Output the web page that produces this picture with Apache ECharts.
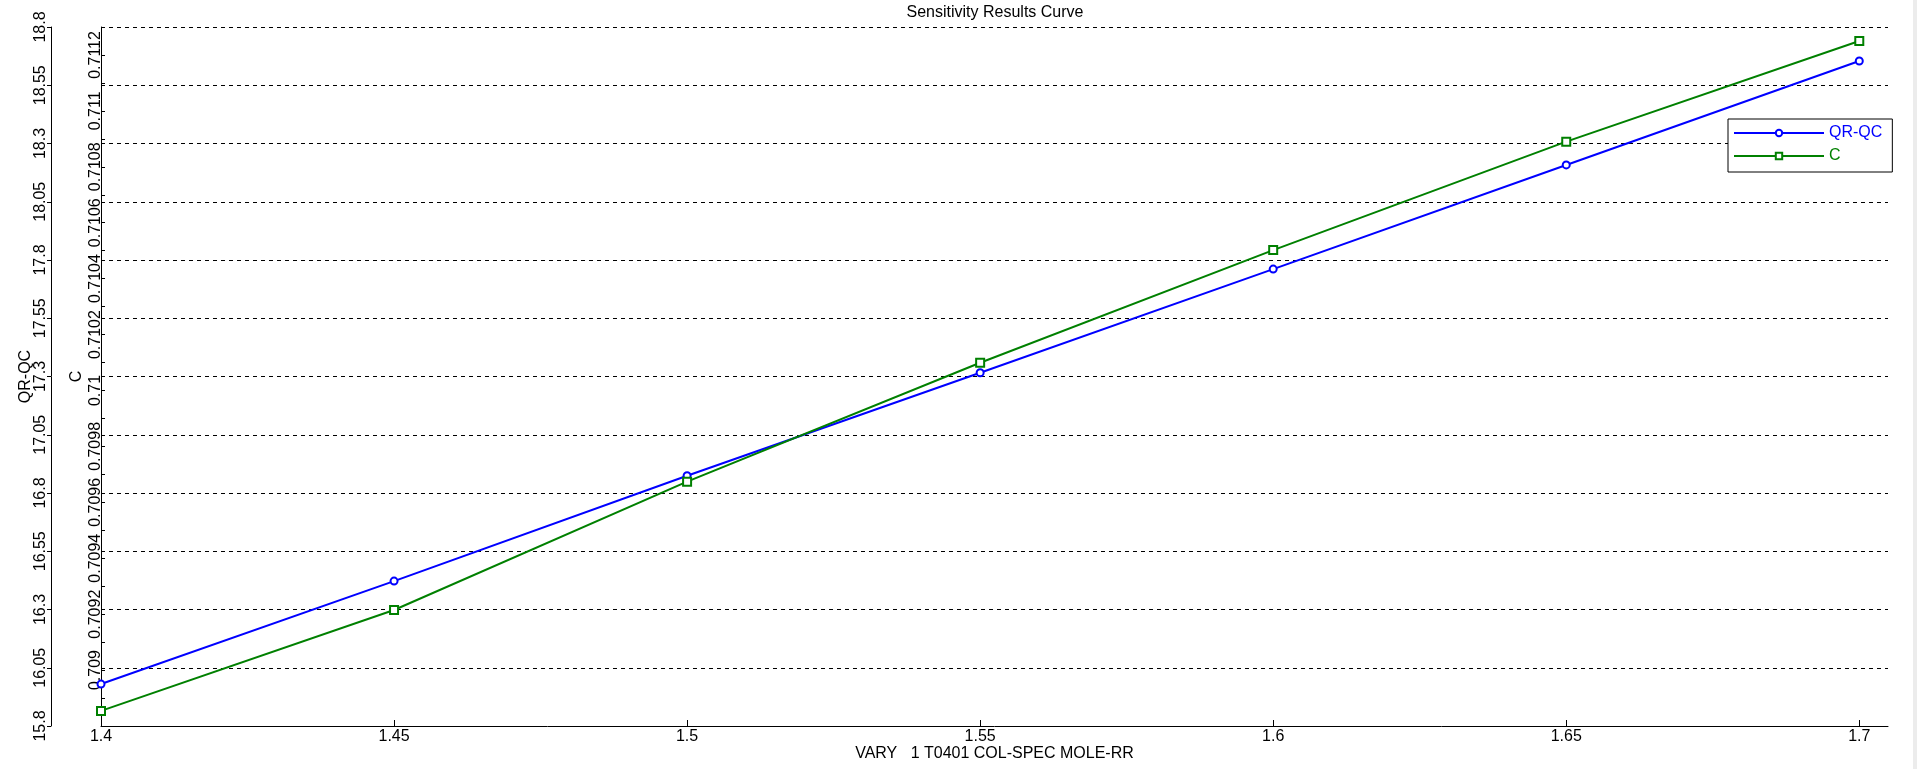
<!DOCTYPE html>
<html>
<head>
<meta charset="utf-8">
<script src="https://cdn.jsdelivr.net/npm/echarts@6/dist/echarts.min.js"></script>
<style>
  html, body { margin: 0; padding: 0; background: #fff; }
  #main { width: 1917px; height: 769px; }
</style>
</head>
<body>
<div id="main"></div>
<script>
// values
var xVals = [1.4, 1.45, 1.5, 1.55, 1.6, 1.65, 1.7];
var qrqcVals = [15.980, 16.422, 16.874, 17.316, 17.761, 18.208, 18.654];
var cVals = [0.708854, 0.709215, 0.709674, 0.710099, 0.710502, 0.710890, 0.711250];
var xTicks = [1.4, 1.45, 1.5, 1.55, 1.6, 1.65, 1.7];

var FONT = "'Liberation Sans', Arial, sans-serif";

function pairs(xs, ys) {
  var out = [];
  for (var i = 0; i < xs.length; i++) {
    out.push([xs[i], ys[i]]);
  }
  return out;
}

var myChart = echarts.init(document.getElementById('main'));
myChart.setOption({
  animation: false,
  backgroundColor: '#fff',
  textStyle: { fontFamily: FONT, fontSize: 16, color: '#000' },
  title: {
    text: 'Sensitivity Results Curve',
    left: 995,
    top: 5,
    textAlign: 'center',
    padding: 0,
    textStyle: { fontFamily: FONT, fontSize: 16, fontWeight: 'normal', color: '#000' }
  },
  grid: { left: 101, right: 29, top: 27, bottom: 43 },
  legend: {
    orient: 'vertical',
    left: 1728,
    top: 119,
    padding: [6, 10, 8, 5],
    itemWidth: 90,
    itemHeight: 8,
    itemGap: 7,
    borderColor: '#000',
    borderWidth: 1,
    backgroundColor: '#fff',
    borderRadius: 0,
    textStyle: { fontFamily: FONT, fontSize: 16, lineHeight: 16 },
    data: [
      { name: 'QR-QC', textStyle: { color: '#0000ff' } },
      { name: 'C', textStyle: { color: '#008000' } }
    ]
  },
  xAxis: {
    type: 'value',
    min: 1.4,
    max: 1.7049,
    name: 'VARY   1 T0401 COL-SPEC MOLE-RR',
    nameLocation: 'middle',
    nameGap: 20,
    nameMoveOverlap: false,
    nameTextStyle: { fontFamily: FONT, fontSize: 16, color: '#000' },
    axisLine: { onZero: false, lineStyle: { color: '#000', width: 1 } },
    axisTick: { inside: true, length: 6, customValues: xTicks, lineStyle: { color: '#000' } },
    axisLabel: {
      customValues: xTicks,
      margin: 3,
      color: '#000',
      fontFamily: FONT,
      fontSize: 16,
      formatter: function (v) { return String(parseFloat(v.toFixed(2))); }
    },
    splitLine: { show: false }
  },
  yAxis: [
    {
      type: 'value',
      position: 'left',
      offset: 50,
      min: 15.8,
      max: 18.8,
      interval: 0.25,
      name: 'QR-QC',
      nameLocation: 'middle',
      nameRotate: 90,
      nameGap: 17,
      nameMoveOverlap: false,
      nameTextStyle: { fontFamily: FONT, fontSize: 16, color: '#000' },
      axisLine: { show: true, onZero: false, lineStyle: { color: '#000', width: 1 } },
      axisTick: { show: true, inside: false, length: 4, lineStyle: { color: '#000' } },
      axisLabel: {
        rotate: 90,
        margin: 2,
        color: '#000',
        fontFamily: FONT,
        fontSize: 16,
        formatter: function (v) { return String(parseFloat(v.toFixed(2))); }
      },
      splitLine: { show: true, lineStyle: { color: '#000', width: 1, type: [4, 4] } }
    },
    {
      type: 'value',
      position: 'left',
      offset: 0,
      min: 0.7088,
      max: 0.7113,
      interval: 0.0002,
      name: 'C',
      nameLocation: 'middle',
      nameRotate: 90,
      nameGap: 16,
      nameMoveOverlap: false,
      nameTextStyle: { fontFamily: FONT, fontSize: 16, color: '#000' },
      axisLine: { show: true, onZero: false, lineStyle: { color: '#000', width: 1 } },
      axisTick: { show: true, inside: true, length: 4, lineStyle: { color: '#000' } },
      minorTick: { show: true, splitNumber: 2, length: 4, lineStyle: { color: '#000' } },
      axisLabel: {
        rotate: 90,
        margin: -3,
        showMinLabel: false,
        showMaxLabel: false,
        color: '#000',
        fontFamily: FONT,
        fontSize: 16,
        formatter: function (v) { return String(parseFloat(v.toFixed(4))); }
      },
      splitLine: { show: false }
    }
  ],
  series: [
    {
      name: 'QR-QC',
      type: 'line',
      yAxisIndex: 0,
      data: pairs(xVals, qrqcVals),
      symbol: 'emptyCircle',
      symbolSize: 7,
      showAllSymbol: true,
      lineStyle: { color: '#0000ff', width: 2 },
      itemStyle: { color: '#0000ff', borderWidth: 1 }
    },
    {
      name: 'C',
      type: 'line',
      yAxisIndex: 1,
      data: pairs(xVals, cVals),
      symbol: 'emptyRect',
      symbolSize: 8,
      showAllSymbol: true,
      lineStyle: { color: '#008000', width: 2 },
      itemStyle: { color: '#008000', borderWidth: 1 }
    }
  ],
  graphic: [
    {
      type: 'rect',
      right: 0,
      top: 0,
      shape: { width: 4, height: 769 },
      style: { fill: '#ececec' },
      silent: true
    }
  ]
});
</script>
</body>
</html>
